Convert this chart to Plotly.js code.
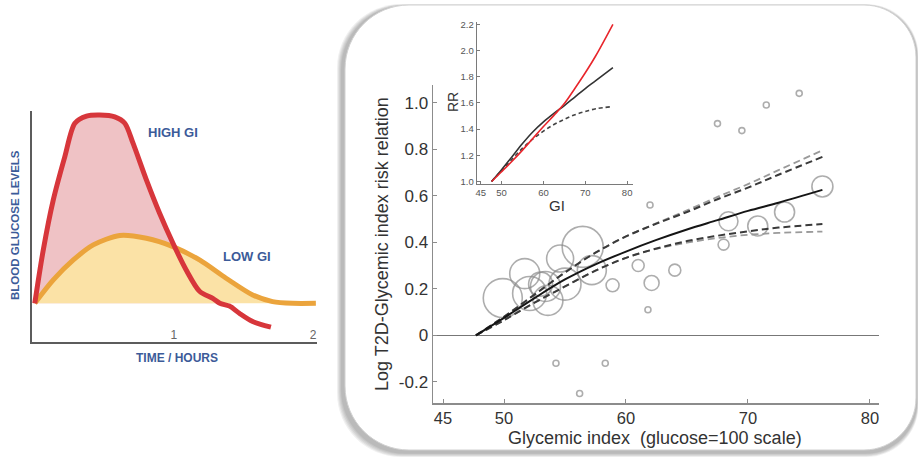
<!DOCTYPE html>
<html><head><meta charset="utf-8">
<script src="https://cdn.plot.ly/plotly-3.0.1.min.js"></script>
<style>html,body{margin:0;padding:0;background:#fff;}#chart{width:918px;height:458px;}</style>
</head><body><div id="chart"></div>
<script>
// ---------- Left illustration: blood glucose response ----------
const highT   = [0, 0.061, 0.133, 0.216, 0.288, 0.372, 0.467, 0.575, 0.647, 0.706, 0.802, 0.897, 0.993, 1.088, 1.184, 1.279, 1.33, 1.399, 1.47, 1.566, 1.697];
const highLvl = [0, 0.283, 0.549, 0.779, 0.956, 0.994, 1.0, 0.99, 0.956, 0.85, 0.655, 0.478, 0.319, 0.177, 0.064, 0.026, 0.0, -0.015, -0.053, -0.097, -0.127];
const highFillEnd = 16; // index where the high-GI curve returns to baseline
const lowT    = [0, 0.133, 0.277, 0.42, 0.611, 0.802, 0.993, 1.184, 1.375, 1.566, 1.709, 1.853, 2.02];
const lowLvl  = [0, 0.124, 0.23, 0.31, 0.36, 0.345, 0.301, 0.23, 0.133, 0.044, 0.009, 0, 0];
const timeTicks = [1, 2];
const timeTickText = ['1', '2'];

// ---------- Main chart: study points ----------
const studyGI = [49.9, 51.7, 52.1, 53.4, 53.6, 54.6, 55.0, 56.45, 57.2, 53.0,
                 58.9, 61.0, 62.1, 64.0, 68.0, 68.4, 70.8, 73.0, 76.1,
                 61.97, 61.8, 54.26, 58.3, 56.2, 67.5, 69.5, 71.5, 74.2];
const studyLogRR = [0.16, 0.265, 0.18, 0.21, 0.15, 0.33, 0.22, 0.38, 0.28, 0.22,
                    0.215, 0.30, 0.225, 0.28, 0.39, 0.49, 0.47, 0.53, 0.64,
                    0.56, 0.11, -0.12, -0.12, -0.25, 0.91, 0.88, 0.99, 1.04];
const studyWeight = [9.75, 7.5, 8.5, 7.5, 7.5, 6.75, 8, 10.25, 7.25, 6,
                     3.25, 3, 3.75, 3, 2.75, 4.75, 5, 5, 5.25,
                     1.5, 1.5, 1.5, 1.5, 1.5, 1.5, 1.5, 1.5, 1.5];

// fitted dose-response and confidence limits
const fitGI   = [47.7, 50, 52.5, 55, 57.5, 60, 62.5, 65, 67.5, 70, 72.5, 76.1];
const fitLog  = [0, 0.075, 0.16, 0.24, 0.305, 0.36, 0.41, 0.455, 0.495, 0.535, 0.57, 0.625];
const ciGI    = [47.7, 50, 52.5, 55, 57.5, 60, 62.5, 65, 67.5, 70, 72.5, 76.1];
const upperA  = [0, 0.08, 0.175, 0.27, 0.355, 0.425, 0.48, 0.53, 0.585, 0.635, 0.69, 0.767];
const upperB  = [0, 0.08, 0.175, 0.27, 0.355, 0.425, 0.482, 0.537, 0.595, 0.65, 0.71, 0.795];
const lowerA  = [0, 0.065, 0.14, 0.21, 0.278, 0.333, 0.373, 0.405, 0.428, 0.447, 0.463, 0.478];
const lowerB  = [0, 0.065, 0.14, 0.21, 0.278, 0.333, 0.372, 0.398, 0.418, 0.432, 0.44, 0.446];
const mainXTicks = [45, 50, 60, 70, 80];
const mainYTicks = [-0.2, 0, 0.2, 0.4, 0.6, 0.8, 1.0];
const mainYText  = ['-0.2', '0', '0.2', '0.4', '0.6', '0.8', '1.0'];

// ---------- Inset: relative risk ----------
const redGI   = [47.6, 50, 52.5, 55, 57.5, 60, 62.5, 65, 67.5, 70, 72.5, 76.6];
const redRR   = [1.0, 1.075, 1.155, 1.24, 1.33, 1.42, 1.505, 1.595, 1.71, 1.83, 1.96, 2.2];
const blackGI = [47.6, 50, 52.5, 55, 57.5, 60, 62.5, 65, 67.5, 70, 72.5, 76.6];
const blackRR = [1.0, 1.09, 1.19, 1.29, 1.38, 1.455, 1.52, 1.58, 1.645, 1.71, 1.77, 1.87];
const dashGI  = [47.6, 50, 52.5, 55, 57.5, 60, 62.5, 65, 67.5, 70, 72.5, 75.9];
const dashRR  = [1.0, 1.085, 1.17, 1.255, 1.325, 1.385, 1.435, 1.475, 1.51, 1.535, 1.555, 1.57];
const insetXTicks = [45, 50, 60, 70, 80];
const insetYTicks = [1.0, 1.2, 1.4, 1.6, 1.8, 2.0, 2.2];
const insetYText  = ['1.0', '1.2', '1.4', '1.6', '1.8', '2.0', '2.2'];

// ---------- layout helpers ----------
const W = 918, H = 458;
const px = v => v / W;
const py = v => (H - v) / H;
const FONT = 'Liberation Sans, Arial, sans-serif';
const BLUE = '#3c5b99';

function roundRect(L, T, R, B, rl, rr) {
  const k = 0.5523;
  const P = (x, y) => px(x).toFixed(5) + ',' + py(y).toFixed(5);
  return 'M' + P(L + rl, T) + ' L' + P(R - rr, T) +
    ' C' + P(R - rr + k * rr, T) + ' ' + P(R, T + rr - k * rr) + ' ' + P(R, T + rr) +
    ' L' + P(R, B - rr) +
    ' C' + P(R, B - rr + k * rr) + ' ' + P(R - rr + k * rr, B) + ' ' + P(R - rr, B) +
    ' L' + P(L + rl, B) +
    ' C' + P(L + rl - k * rl, B) + ' ' + P(L, B - rl + k * rl) + ' ' + P(L, B - rl) +
    ' L' + P(L, T + rl) +
    ' C' + P(L, T + rl - k * rl) + ' ' + P(L + rl - k * rl, T) + ' ' + P(L + rl, T) + ' Z';
}

const shapes = [];
for (let e = 5; e >= 1; e--) {
  shapes.push({type: 'path', xref: 'paper', yref: 'paper', layer: 'below',
    path: roundRect(345 - 3 - e, 5 + 1 - e * 0.4, 917 + e * 0.3, 450 + 3 + e * 0.8, 64, 52),
    fillcolor: 'rgba(0,0,0,0.06)', line: {width: 0}});
}
shapes.push({type: 'path', xref: 'paper', yref: 'paper', layer: 'below',
  path: roundRect(345, 5, 916, 450, 64, 52),
  fillcolor: '#ffffff', line: {color: '#d2d2d2', width: 1}});

const traces = [
  // left illustration
  {x: highT.slice(0, highFillEnd + 1), y: highLvl.slice(0, highFillEnd + 1), xaxis: 'x3', yaxis: 'y3',
   mode: 'lines', fill: 'tozeroy', fillcolor: '#efc2c5', line: {width: 0, shape: 'spline', smoothing: 0.8}},
  {x: lowT, y: lowLvl, xaxis: 'x3', yaxis: 'y3', mode: 'lines', fill: 'tozeroy', fillcolor: '#fbe2a6',
   line: {width: 0, shape: 'spline', smoothing: 0.8}},
  {x: lowT, y: lowLvl, xaxis: 'x3', yaxis: 'y3', mode: 'lines',
   line: {color: '#eba43c', width: 5, shape: 'spline', smoothing: 0.8}},
  {x: highT, y: highLvl, xaxis: 'x3', yaxis: 'y3', mode: 'lines',
   line: {color: '#d7363b', width: 5, shape: 'spline', smoothing: 0.8}},
  // main chart
  {x: studyGI, y: studyLogRR, xaxis: 'x', yaxis: 'y', mode: 'markers',
   marker: {symbol: 'circle-open', size: studyWeight, sizemode: 'diameter', sizeref: 0.25,
            color: '#8a8a8a', line: {width: 1.6, color: '#8a8a8a'}}, cliponaxis: false},
  {x: ciGI, y: upperB, xaxis: 'x', yaxis: 'y', mode: 'lines',
   line: {color: '#9a9a9a', width: 1.8, dash: '7px,4px', shape: 'spline'}},
  {x: ciGI, y: lowerB, xaxis: 'x', yaxis: 'y', mode: 'lines',
   line: {color: '#9a9a9a', width: 1.8, dash: '7px,4px', shape: 'spline'}},
  {x: ciGI, y: upperA, xaxis: 'x', yaxis: 'y', mode: 'lines',
   line: {color: '#3a3a3a', width: 2, dash: '7px,4px', shape: 'spline'}},
  {x: ciGI, y: lowerA, xaxis: 'x', yaxis: 'y', mode: 'lines',
   line: {color: '#3a3a3a', width: 2, dash: '7px,4px', shape: 'spline'}},
  {x: fitGI, y: fitLog, xaxis: 'x', yaxis: 'y', mode: 'lines',
   line: {color: '#151515', width: 2, shape: 'spline'}},
  // inset
  {x: dashGI, y: dashRR, xaxis: 'x2', yaxis: 'y2', mode: 'lines',
   line: {color: '#444', width: 1.6, dash: '4px,3px', shape: 'spline'}},
  {x: blackGI, y: blackRR, xaxis: 'x2', yaxis: 'y2', mode: 'lines',
   line: {color: '#333', width: 1.6, shape: 'spline'}},
  {x: redGI, y: redRR, xaxis: 'x2', yaxis: 'y2', mode: 'lines',
   line: {color: '#e8262c', width: 1.6, shape: 'spline'}}
];

const axBase = {showgrid: false, zeroline: false, showline: true, fixedrange: true};

const layout = {
  width: W, height: H, margin: {l: 0, r: 0, t: 0, b: 0, pad: 0},
  paper_bgcolor: '#ffffff', plot_bgcolor: 'rgba(0,0,0,0)',
  showlegend: false, font: {family: FONT, color: '#333'},
  shapes: shapes,
  xaxis: Object.assign({}, axBase, {domain: [px(433), px(879)], range: [44.18, 80.74], anchor: 'y',
    linecolor: '#8c8c8c', linewidth: 1.5, ticks: 'inside', ticklen: 4, tickwidth: 1, tickcolor: '#8c8c8c',
    tickmode: 'array', tickvals: mainXTicks, ticktext: mainXTicks.map(String),
    tickfont: {size: 16.5, color: '#333', family: FONT}}),
  yaxis: Object.assign({}, axBase, {domain: [py(403), py(85)], range: [-0.291, 1.076], anchor: 'x',
    linecolor: '#8c8c8c', linewidth: 1.5, ticks: 'inside', ticklen: 4, tickwidth: 1, tickcolor: '#8c8c8c',
    tickmode: 'array', tickvals: mainYTicks, ticktext: mainYText,
    zeroline: true, zerolinecolor: '#777', zerolinewidth: 1.6,
    tickfont: {size: 17, color: '#333', family: FONT}}),
  xaxis2: Object.assign({}, axBase, {domain: [px(476.7), px(633)], range: [44.05, 81.4], anchor: 'y2',
    linecolor: '#7a7a7a', linewidth: 1, ticks: 'inside', ticklen: 3, tickcolor: '#7a7a7a',
    tickmode: 'array', tickvals: insetXTicks, ticktext: insetXTicks.map(String),
    tickfont: {size: 9.5, color: '#555', family: FONT}}),
  yaxis2: Object.assign({}, axBase, {domain: [py(183.5), py(21.7)], range: [0.985, 2.22], anchor: 'x2',
    linecolor: '#7a7a7a', linewidth: 1, ticks: 'inside', ticklen: 3, tickcolor: '#7a7a7a',
    tickmode: 'array', tickvals: insetYTicks, ticktext: insetYText,
    tickfont: {size: 9.5, color: '#555', family: FONT}}),
  xaxis3: Object.assign({}, axBase, {domain: [px(32), px(316.7)], range: [-0.02, 2.026], anchor: 'y3',
    linecolor: '#5c5c5c', linewidth: 2.5, ticks: '', ticklabelposition: 'inside', ticklabeloverflow: 'allow',
    tickmode: 'array', tickvals: timeTicks, ticktext: timeTickText,
    tickfont: {size: 12, color: '#666', family: FONT}}),
  yaxis3: Object.assign({}, axBase, {domain: [py(341.7), py(111.2)], range: [-0.204, 1.02], anchor: 'x3',
    linecolor: '#5c5c5c', linewidth: 2.5, ticks: '', showticklabels: false}),
  annotations: [
    {text: 'Glycemic index\u00a0\u00a0(glucose=100 scale)', x: px(655), y: py(438), xref: 'paper', yref: 'paper',
     showarrow: false, xanchor: 'center', yanchor: 'middle', font: {size: 18, color: '#333', family: FONT}},
    {text: 'Log T2D-Glycemic index risk relation', x: px(382), y: py(244), xref: 'paper', yref: 'paper',
     showarrow: false, textangle: -90, xanchor: 'center', yanchor: 'middle', font: {size: 18, color: '#333', family: FONT}},
    {text: 'RR', x: px(453), y: py(102), xref: 'paper', yref: 'paper',
     showarrow: false, textangle: -90, xanchor: 'center', yanchor: 'middle', font: {size: 14, color: '#333', family: FONT}},
    {text: 'GI', x: px(557), y: py(205), xref: 'paper', yref: 'paper',
     showarrow: false, xanchor: 'center', yanchor: 'middle', font: {size: 15, color: '#333', family: FONT}},
    {text: '<b>HIGH GI</b>', x: px(173), y: py(133), xref: 'paper', yref: 'paper',
     showarrow: false, xanchor: 'center', yanchor: 'middle', font: {size: 13, color: BLUE, family: FONT}},
    {text: '<b>LOW GI</b>', x: px(247), y: py(257), xref: 'paper', yref: 'paper',
     showarrow: false, xanchor: 'center', yanchor: 'middle', font: {size: 13, color: BLUE, family: FONT}},
    {text: '<b>TIME / HOURS</b>', x: px(177), y: py(358), xref: 'paper', yref: 'paper',
     showarrow: false, xanchor: 'center', yanchor: 'middle', font: {size: 12, color: BLUE, family: FONT}},
    {text: '<b>BLOOD GLUCOSE LEVELS</b>', x: px(15), y: py(225), xref: 'paper', yref: 'paper',
     showarrow: false, textangle: -90, xanchor: 'center', yanchor: 'middle', font: {size: 11.5, color: BLUE, family: FONT}}
  ]
};

Plotly.newPlot('chart', traces, layout, {staticPlot: true, displayModeBar: false});
</script></body></html>
